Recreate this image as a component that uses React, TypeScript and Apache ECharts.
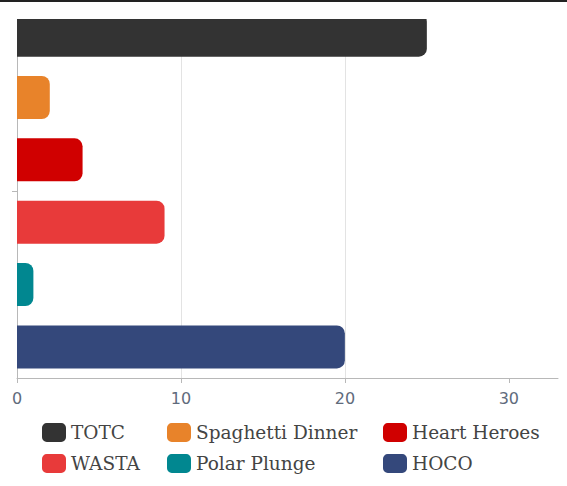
import React, { useEffect, useRef } from "react";
import * as echarts from "echarts";

const categories = ["Events"];
const seriesNames = ["TOTC", "Spaghetti Dinner", "Heart Heroes", "WASTA", "Polar Plunge", "HOCO"];
const seriesValues = [25, 2, 4, 9, 1, 20];
const seriesColors = ["#333333", "#E8832A", "#D00000", "#E83A3A", "#018790", "#34487B"];
const xTicks = [0, 10, 20, 30];

export default function App() {
  const ref = useRef<HTMLDivElement>(null);
  useEffect(() => {
    if (!ref.current) return;
    const chart = echarts.init(ref.current, undefined, { renderer: "svg" });
    const legendText = { fontFamily: "DejaVu Serif", fontSize: 18.5, color: "#444444" };
    const legendCommon = {
      orient: "vertical" as const,
      top: 423,
      padding: 0,
      itemWidth: 24,
      itemHeight: 19,
      itemGap: 12,
      itemTextGap: 9,
      icon: "roundRect",
      textStyle: legendText,
      selectedMode: false,
    };
    chart.setOption({
      animation: false,
      grid: { left: 17, right: 9, top: 4, bottom: 108, containLabel: false },
      legend: [
        { ...legendCommon, left: 42, data: [seriesNames[0], seriesNames[3]] },
        { ...legendCommon, left: 167, data: [seriesNames[1], seriesNames[4]] },
        { ...legendCommon, left: 383, data: [seriesNames[2], seriesNames[5]] },
      ],
      xAxis: {
        type: "value",
        min: 0,
        max: 33,
        interval: 10,
        axisLine: { show: true, lineStyle: { color: "#b8b8b8", width: 1 } },
        axisTick: { show: true, length: 5, lineStyle: { color: "#b8b8b8" }, customValues: xTicks },
        axisLabel: {
          customValues: xTicks,
          margin: 12,
          fontFamily: "DejaVu Sans",
          fontSize: 16,
          color: "#5f6b7c",
        },
        splitLine: { show: true, showMaxLine: false, lineStyle: { color: "#e3e3e3", width: 1 } },
      },
      yAxis: {
        type: "category",
        data: categories,
        axisLine: { show: true, lineStyle: { color: "#b8b8b8", width: 1 } },
        axisTick: { show: true, alignWithLabel: true, length: 5, lineStyle: { color: "#b8b8b8" } },
        axisLabel: { show: false },
        splitLine: { show: false },
      },
      series: seriesNames.map((name, i) => ({
        name,
        type: "bar",
        data: [seriesValues[i]],
        barWidth: 43,
        barGap: "45%",
        itemStyle: { color: seriesColors[i], borderRadius: [0, 8, 8, 0] },
      })),
      graphic: [
        { type: "rect", left: 0, top: 2, z: 100, shape: { width: 567, height: 17 }, style: { fill: "#ffffff" } },
        { type: "rect", left: 0, top: 0, z: 101, shape: { width: 567, height: 2 }, style: { fill: "#222222" } },
      ],
    });
    return () => chart.dispose();
  }, []);
  return (
    <div
      ref={ref}
      style={{ position: "fixed", left: 0, top: 0, width: 567, height: 486, background: "#ffffff" }}
    />
  );
}
